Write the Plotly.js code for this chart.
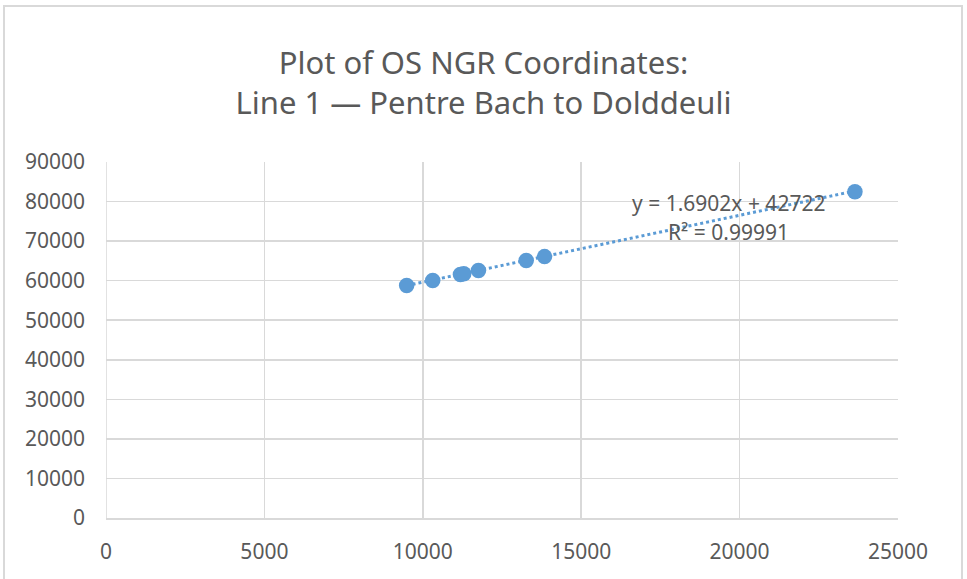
<!DOCTYPE html>
<html>
<head>
<meta charset="utf-8">
<script src="https://cdn.plot.ly/plotly-3.0.1.min.js"></script>
<style>
html,body{margin:0;padding:0;background:#fff;}
#chart{width:967px;height:579px;}
</style>
</head>
<body>
<div id="chart"></div>
<script>
// Data (OS NGR easting vs northing)
var eastings  = [9491, 10313, 11188, 11293, 11757, 13265, 13843, 23641];
var northings = [58794, 60050, 61558, 61730, 62563, 65075, 66080, 82487];

// Trendline parameters as printed on the chart
var trendSlope = 1.6902;
var trendIntercept = 42722;
var trendLabel1 = 'y = 1.6902x + 42722';
var trendLabel2 = 'R² = 0.99991';

var titleLines = ['Plot of OS NGR Coordinates:', 'Line 1 — Pentre Bach to Dolddeuli'];
var xTicks = [0, 5000, 10000, 15000, 20000, 25000];
var yTicks = [0, 10000, 20000, 30000, 40000, 50000, 60000, 70000, 80000, 90000];

var xMin = Math.min.apply(null, eastings);
var xMax = Math.max.apply(null, eastings);
var trendX = [xMin, xMax];
var trendY = trendX.map(function(x){ return trendSlope * x + trendIntercept; });

var blue = '#5B9BD5';
var grey = '#595959';
var grid = '#D9D9D9';
var font = 'Noto Sans, Open Sans, sans-serif';

var traces = [
  {
    x: trendX, y: trendY, type: 'scatter', mode: 'lines',
    line: {color: blue, width: 3, dash: 'dot'},
    hoverinfo: 'skip', showlegend: false
  },
  {
    x: eastings, y: northings, type: 'scatter', mode: 'markers',
    marker: {color: blue, size: 15.5, line: {width: 0}},
    showlegend: false
  }
];

var layout = {
  width: 967, height: 579,
  margin: {l: 106, r: 69, t: 162, b: 61},
  paper_bgcolor: '#fff', plot_bgcolor: '#fff',
  font: {family: font, color: grey},
  title: {
    text: titleLines.join('<br>'),
    font: {family: font, size: 31, color: grey},
    x: 0.5, xanchor: 'center', y: 0.872, yanchor: 'middle', yref: 'container'
  },
  xaxis: {
    range: [0, 25000], tickvals: xTicks, ticktext: xTicks.map(String),
    showgrid: true, gridcolor: grid, gridwidth: 1.5,
    zeroline: false, showline: true, linecolor: grid, linewidth: 2, mirror: false,
    ticks: '', ticklabelstandoff: 14,
    tickfont: {family: font, size: 21, color: grey}, fixedrange: true
  },
  yaxis: {
    range: [0, 90000], tickvals: yTicks, ticktext: yTicks.map(String),
    showgrid: true, gridcolor: grid, gridwidth: 1.5,
    zeroline: false, showline: false,
    ticks: '', ticklabelstandoff: 20,
    tickfont: {family: font, size: 21, color: grey}, fixedrange: true
  },
  shapes: [
    {type: 'line', xref: 'x', yref: 'paper', x0: 0, x1: 0, y0: 0, y1: 1, line: {color: grid, width: 1.5}, layer: 'below'},
    {type: 'rect', xref: 'paper', yref: 'paper',
     x0: (4 - 106) / 792, x1: (962 - 106) / 792,
     y0: (518 - 590) / 356, y1: (518 - 6) / 356,
     line: {color: grid, width: 2}, fillcolor: 'rgba(0,0,0,0)', layer: 'below'}
  ],
  annotations: [
    {x: 19634, y: 79635, xref: 'x', yref: 'y', text: trendLabel1, showarrow: false,
     xanchor: 'center', yanchor: 'middle', font: {family: font, size: 21, color: grey}},
    {x: 19634, y: 72303, xref: 'x', yref: 'y', text: trendLabel2, showarrow: false,
     xanchor: 'center', yanchor: 'middle', font: {family: font, size: 21, color: grey}}
  ],
  hovermode: false
};

Plotly.newPlot('chart', traces, layout, {displayModeBar: false, staticPlot: true});
</script>
</body>
</html>
